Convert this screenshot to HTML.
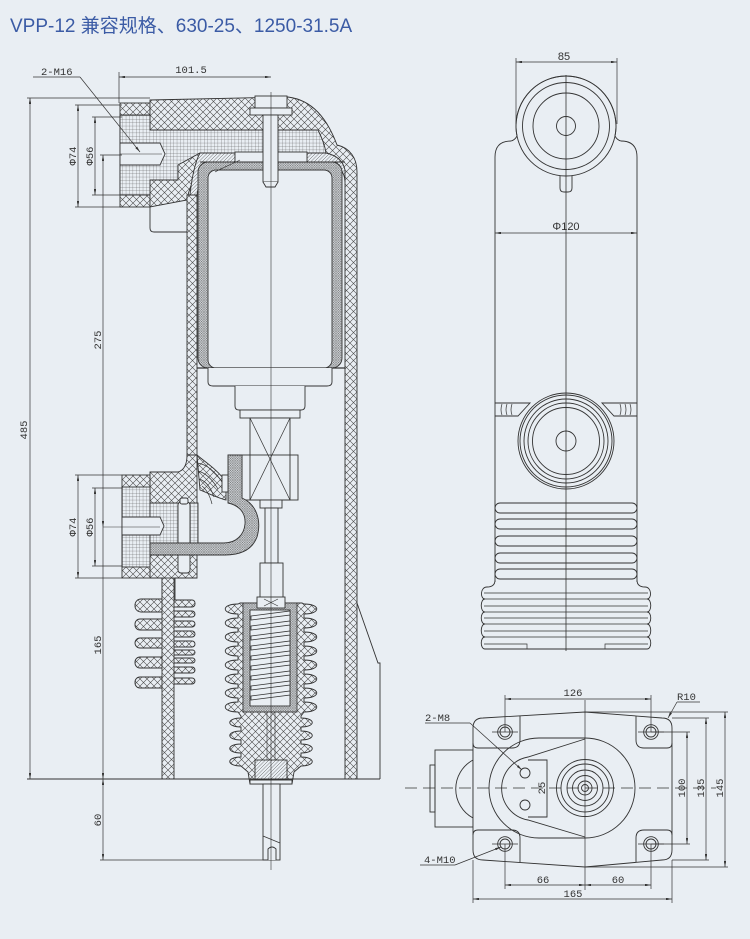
<!DOCTYPE html>
<html><head><meta charset="utf-8">
<style>
html,body{margin:0;padding:0;background:#e9eef3;}
svg{display:block;}
</style></head><body>
<svg width="750" height="939" viewBox="0 0 750 939" xmlns="http://www.w3.org/2000/svg">
<defs>
<pattern id="xh" width="7" height="7" patternUnits="userSpaceOnUse">
<rect width="7" height="7" fill="#e9eef3"/>
<path d="M0,0 L7,7 M7,0 L0,7" stroke="#4a4a4a" stroke-width="0.6"/>
</pattern>
<pattern id="gr" width="3.4" height="3.4" patternUnits="userSpaceOnUse">
<rect width="3.4" height="3.4" fill="#e9eef3"/>
<path d="M0,0 H3.4 M0,0 V3.4" stroke="#555" stroke-width="0.5"/>
</pattern>
<pattern id="dn" width="2.4" height="2.4" patternUnits="userSpaceOnUse">
<rect width="2.4" height="2.4" fill="#d2d6da"/>
<path d="M0,0 L2.4,2.4 M2.4,0 L0,2.4" stroke="#555" stroke-width="0.4"/>
</pattern>
<pattern id="dg" width="3.5" height="3.5" patternUnits="userSpaceOnUse">
<rect width="3.5" height="3.5" fill="#e9eef3"/>
<path d="M0,3.5 L3.5,0" stroke="#555" stroke-width="0.5"/>
</pattern>
<marker id="ar" viewBox="0 0 10 4" refX="10" refY="2" markerUnits="userSpaceOnUse" markerWidth="6" markerHeight="2.4" orient="auto-start-reverse">
<path d="M0,0 L10,2 L0,4 Z" fill="#333"/>
</marker>
</defs>

<rect width="750" height="939" fill="#e9eef3"/>

<text x="10" y="32" font-family="Liberation Sans, Noto Sans CJK SC, sans-serif" font-size="19" fill="#3b5ba5">VPP-12 兼容规格、630-25、1250-31.5A</text>

<!-- ================= LEFT VIEW ================= -->
<g stroke="#333" stroke-width="0.9">
<rect x="120" y="103" width="30" height="104" fill="url(#xh)"/>
<path d="M150,100 L288,97 C312,100 327,118 337,145 C350,148 357,158 357,172 L357,779 L345,779 L345,182 C345,170 338,163 328,163 L215,163 C200,165 190,182 187,200 L150,207 Z" fill="url(#xh)"/>
<rect x="187" y="195" width="10" height="265" fill="url(#xh)"/>
<path d="M120,115 L150,115 L150,130 L318,130 C322,138 325,146 326,153 L200,153 L178,165 L178,180 L150,180 L150,195 L120,195 Z" fill="url(#gr)"/>
<path d="M120,143 L160,143 L165,154 L160,165 L120,165 Z" fill="#e9eef3"/>
<line x1="120" y1="154" x2="162" y2="154" stroke-width="0.5"/>
<path d="M200,153 L235,153 L235,162 L215,163 C205,166 199,178 197,195 L190,195 C192,175 196,160 200,153 Z" fill="url(#dg)"/>
<path d="M307,153 L326,153 C335,155 343,160 345,170 L345,182 C345,172 338,164 328,163 L307,163 Z" fill="url(#dg)"/>
<path d="M150,207 L150,228 Q150,232 154,232 L187,232" fill="none"/>
<rect x="235" y="152" width="72" height="10" fill="#e9eef3"/>
<rect x="198" y="162" width="144" height="206" rx="10" fill="url(#dn)"/>
<rect x="208" y="170" width="124" height="198" rx="8" fill="#e9eef3"/>
<line x1="200" y1="162" x2="345" y2="162" stroke-width="1.1"/>
<path d="M215,172 C222,168 230,165 240,160" fill="none" stroke-width="0.6"/>
<rect x="255" y="96" width="32" height="12" fill="#e9eef3"/>
<rect x="250" y="108" width="42" height="7" fill="#e9eef3"/>
<rect x="263" y="115" width="15" height="67" fill="#e9eef3"/>
<path d="M263,182 L266,187 L275,187 L278,182" fill="#e9eef3"/>
<line x1="197" y1="368" x2="345" y2="368" stroke-width="1.2"/>
<path d="M208,368 L208,382 Q208,386 213,386 L327,386 Q332,386 332,382 L332,368" fill="#e9eef3"/>
<path d="M235,386 L235,406 Q235,410 239,410 L301,410 Q305,410 305,406 L305,386" fill="#e9eef3"/>
<rect x="240" y="410" width="60" height="8" fill="#e9eef3"/>
<rect x="250" y="418" width="40" height="82" fill="#e9eef3"/>
<rect x="242" y="455" width="56" height="45" fill="none"/>
<path d="M250,418 L290,500 M290,418 L250,500" fill="none" stroke-width="0.7"/>
<rect x="260" y="500" width="22" height="8" fill="#e9eef3"/>
<rect x="265" y="508" width="13" height="55" fill="#e9eef3"/>
<rect x="260" y="563" width="23" height="37" fill="#e9eef3"/>
<path d="M150,472 L178,472 C185,470 187,463 187,455 L197,455 C197,465 197,472 197,480 L197,578 L175,578 L175,600 L162,600 L162,578 L150,578 Z" fill="url(#xh)"/>
<rect x="122" y="475" width="28" height="103" fill="url(#xh)"/>
<rect x="122" y="487" width="28" height="80" fill="url(#gr)"/>
<rect x="150" y="503" width="48" height="40" fill="url(#gr)"/>
<path d="M122,517 L160,517 L164,526 L160,535 L122,535 Z" fill="#e9eef3"/>
<line x1="103" y1="527" x2="160" y2="527" stroke-width="0.5"/>
<path d="M197,455 C205,462 218,470 226,482 L226,500 C218,498 210,494 200,490 Z" fill="url(#xh)"/>
<path d="M197,463 C206,464 215,471 222,482 M198,471 C206,473 212,479 218,489 M199,479 C206,481 211,488 214,497 M202,486 C207,490 210,496 212,504" fill="none" stroke-width="0.7"/>
<rect x="178" y="502" width="12" height="71" rx="3" fill="#e9eef3"/>
<rect x="180" y="498" width="8" height="6" rx="2" fill="#e9eef3"/>
<path d="M228,455 L242,455 L242,498 C256,504 262,520 257,537 C252,550 240,555 225,555 L150,555 L150,543 L224,543 C236,543 244,535 245,524 C246,512 238,505 228,503 Z" fill="url(#dn)"/>
<rect x="222" y="475" width="6" height="17" fill="#e9eef3"/>
<rect x="135" y="599" width="32" height="13" rx="6" fill="url(#xh)"/>
<rect x="135" y="619" width="32" height="11" rx="5" fill="url(#xh)"/>
<rect x="135" y="638" width="32" height="10" rx="5" fill="url(#xh)"/>
<rect x="135" y="657" width="32" height="11" rx="5" fill="url(#xh)"/>
<rect x="135" y="677" width="32" height="11" rx="5" fill="url(#xh)"/>
<rect x="170" y="600" width="25" height="7" rx="3" fill="url(#xh)"/>
<rect x="170" y="611" width="25" height="6" rx="3" fill="url(#xh)"/>
<rect x="170" y="621" width="25" height="6" rx="3" fill="url(#xh)"/>
<rect x="170" y="631" width="25" height="6" rx="3" fill="url(#xh)"/>
<rect x="170" y="641" width="25" height="6" rx="3" fill="url(#xh)"/>
<rect x="170" y="650" width="25" height="5" rx="2.5" fill="url(#xh)"/>
<rect x="170" y="658" width="25" height="5" rx="2.5" fill="url(#xh)"/>
<rect x="170" y="667" width="25" height="6" rx="3" fill="url(#xh)"/>
<rect x="170" y="678" width="25" height="6" rx="3" fill="url(#xh)"/>
<rect x="162" y="578" width="12" height="201" fill="url(#xh)"/>
<path d="M240,603 L238,604 C221,604 221,614 238,614 L238,618 C221,618 221,628 238,628 L238,632 C221,632 221,642 238,642 L238,646 C221,646 221,656 238,656 L238,660 C221,660 221,670 238,670 L238,674 C221,674 221,684 238,684 L238,688 C221,688 221,698 238,698 L238,702 C221,702 221,712 238,712 L241,716 L241,718 C226,718 226,727 241,727 L241,731 C226,731 226,740 241,740 L241,744 C226,744 226,753 241,753 L241,757 C226,757 226,766 241,766 L248,772 L250,784 L292,784 L294,772 L301,766 C316,766 316,757 301,757 L301,753 C316,753 316,744 301,744 L301,740 C316,740 316,731 301,731 L301,727 C316,727 316,718 301,718 L301,716 L304,712 C321,712 321,702 304,702 L304,698 C321,698 321,688 304,688 L304,684 C321,684 321,674 304,674 L304,670 C321,670 321,660 304,660 L304,656 C321,656 321,646 304,646 L304,642 C321,642 321,632 304,632 L304,628 C321,628 321,618 304,618 L304,614 C321,614 321,604 304,604 L302,603 Z" fill="url(#xh)"/>
<rect x="243" y="603" width="54" height="109" fill="url(#dn)"/>
<rect x="250" y="610" width="40" height="96" fill="#e9eef3"/>
<g fill="#e9eef3" stroke-width="0.8">
<path d="M251,616 L290,611 L290,615 L251,620 Z"/>
<path d="M251,626 L290,621 L290,625 L251,630 Z"/>
<path d="M251,636 L290,631 L290,635 L251,640 Z"/>
<path d="M251,646 L290,641 L290,645 L251,650 Z"/>
<path d="M251,656 L290,651 L290,655 L251,660 Z"/>
<path d="M251,666 L290,661 L290,665 L251,670 Z"/>
<path d="M251,676 L290,671 L290,675 L251,680 Z"/>
<path d="M251,686 L290,681 L290,685 L251,690 Z"/>
<path d="M251,696 L290,691 L290,695 L251,700 Z"/>
</g>
<rect x="257" y="597" width="28" height="11" fill="#e9eef3"/>
<path d="M264,599 L278,606 M278,599 L264,606" fill="none" stroke-width="0.6"/>
<line x1="267" y1="712" x2="267" y2="760" stroke-width="0.6"/>
<line x1="275" y1="712" x2="275" y2="760" stroke-width="0.6"/>
<rect x="255" y="760" width="32" height="20" fill="url(#dg)"/>
<rect x="250" y="780" width="42" height="4" fill="#e9eef3"/>
<rect x="263" y="784" width="17" height="76" fill="#e9eef3"/>
<line x1="263" y1="836" x2="280" y2="843" stroke-width="0.7"/>
<path d="M268,860 L268,849 Q272,845 276,849 L276,860" fill="#e9eef3"/>
<path d="M357,603 L378,663 L380,663 L380,779" fill="none"/>
</g>
<line x1="271" y1="92" x2="271" y2="870" stroke="#333" stroke-width="0.6"/>

<g stroke="#333" stroke-width="0.7" fill="none">
<line x1="30" y1="98" x2="30" y2="779" marker-start="url(#ar)" marker-end="url(#ar)"/>
<line x1="27" y1="98" x2="150" y2="98"/>
<line x1="119" y1="72" x2="119" y2="103"/>
<line x1="119" y1="77" x2="271" y2="77" marker-start="url(#ar)" marker-end="url(#ar)"/>
<line x1="33" y1="77" x2="80" y2="77"/>
<line x1="80" y1="77" x2="140" y2="152" marker-end="url(#ar)"/>
<line x1="78" y1="105" x2="78" y2="207" marker-start="url(#ar)" marker-end="url(#ar)"/>
<line x1="75" y1="105" x2="122" y2="105"/>
<line x1="75" y1="207" x2="122" y2="207"/>
<line x1="95" y1="117" x2="95" y2="195" marker-start="url(#ar)" marker-end="url(#ar)"/>
<line x1="92" y1="117" x2="122" y2="117"/>
<line x1="92" y1="195" x2="122" y2="195"/>
<line x1="103" y1="155" x2="103" y2="527" marker-start="url(#ar)" marker-end="url(#ar)"/>
<line x1="100" y1="155" x2="122" y2="155"/>
<line x1="78" y1="475" x2="78" y2="578" marker-start="url(#ar)" marker-end="url(#ar)"/>
<line x1="75" y1="475" x2="122" y2="475"/>
<line x1="75" y1="578" x2="122" y2="578"/>
<line x1="95" y1="488" x2="95" y2="566" marker-start="url(#ar)" marker-end="url(#ar)"/>
<line x1="92" y1="488" x2="122" y2="488"/>
<line x1="92" y1="566" x2="122" y2="566"/>
<line x1="103" y1="527" x2="103" y2="779" marker-end="url(#ar)"/>
<line x1="103" y1="779" x2="103" y2="860" marker-start="url(#ar)" marker-end="url(#ar)"/>
<line x1="100" y1="860" x2="268" y2="860"/>
<line x1="27" y1="779" x2="380" y2="779" stroke-width="0.9"/>
</g>
<g font-family="Liberation Mono, monospace" font-size="10.5" fill="#333">
<text x="41" y="75">2-M16</text>
<text x="191" y="73" text-anchor="middle">101.5</text>
<text x="27" y="430" text-anchor="middle" transform="rotate(-90 27 430)">485</text>
<text x="76" y="156" text-anchor="middle" transform="rotate(-90 76 156)">Φ74</text>
<text x="93" y="156" text-anchor="middle" transform="rotate(-90 93 156)">Φ56</text>
<text x="101" y="340" text-anchor="middle" transform="rotate(-90 101 340)">275</text>
<text x="76" y="527" text-anchor="middle" transform="rotate(-90 76 527)">Φ74</text>
<text x="93" y="527" text-anchor="middle" transform="rotate(-90 93 527)">Φ56</text>
<text x="101" y="645" text-anchor="middle" transform="rotate(-90 101 645)">165</text>
<text x="101" y="820" text-anchor="middle" transform="rotate(-90 101 820)">60</text>
</g>

<!-- ================= RIGHT TOP VIEW ================= -->
<g stroke="#333" stroke-width="0.9" fill="none">
<path d="M495,582 L495,157 Q495,141 511,141 Q515,140 517,136 A50,50 0 1 1 615,136 Q617,140 621,141 Q637,141 637,157 L637,582"/>
<circle cx="566" cy="126" r="50"/>
<circle cx="566" cy="126" r="43.5"/>
<circle cx="566" cy="126" r="33"/>
<circle cx="566" cy="126" r="9.5"/>
<path d="M560,176 L560,188 Q560,192 564,192 L568,192 Q572,192 572,188 L572,176"/>
<path d="M495,403 L530,403 L518,416 L495,416"/>
<path d="M637,403 L602,403 L614,416 L637,416"/>
<path d="M502,404 Q500,410 502,415 M507,404 Q505,410 507,415 M512,404 Q510,410 512,415 M630,404 Q632,410 630,415 M625,404 Q627,410 625,415 M620,404 Q622,410 620,415" stroke-width="0.7"/>
<circle cx="566" cy="441" r="48" fill="#e9eef3"/>
<circle cx="566" cy="441" r="46"/>
<circle cx="566" cy="441" r="42"/>
<circle cx="566" cy="441" r="38"/>
<circle cx="566" cy="441" r="33.5"/>
<circle cx="566" cy="441" r="10"/>
<rect x="495" y="503" width="142" height="10" rx="5"/>
<rect x="495" y="519" width="142" height="10" rx="5"/>
<rect x="495" y="536" width="142" height="10" rx="5"/>
<rect x="495" y="553" width="142" height="10" rx="5"/>
<rect x="495" y="569" width="142" height="10" rx="5"/>
<path d="M495,580 Q495,587 487,587 C480,587 480,599 485,599 C480,599 480,612 485,612 C480,612 480,624 485,624 C480,624 480,637 485,637 C480,637 480,649 485,649 L647,649 C652,649 652,637 647,637 C652,637 652,624 647,624 C652,624 652,612 647,612 C652,612 652,599 647,599 C652,599 652,587 645,587 Q637,587 637,580"/>
<path d="M484,593 H648 M483,599 H649 M484,606 H648 M483,612 H649 M484,618 H648 M483,624 H649 M484,631 H648 M483,637 H649 M484,644 H527 V649 M605,649 V644 H648" stroke-width="0.7"/>
</g>
<g stroke="#333" stroke-width="0.7" fill="none">
<line x1="566" y1="75" x2="566" y2="651" stroke-width="0.8"/>
<line x1="516" y1="58" x2="516" y2="124"/>
<line x1="617" y1="58" x2="617" y2="124"/>
<line x1="516" y1="62" x2="617" y2="62" marker-start="url(#ar)" marker-end="url(#ar)"/>
<line x1="495" y1="233" x2="637" y2="233" marker-start="url(#ar)" marker-end="url(#ar)"/>
</g>
<g font-family="Liberation Sans, sans-serif" font-size="11" fill="#333" text-anchor="middle">
<text x="564" y="60">85</text>
<text x="566" y="230">Φ120</text>
</g>

<!-- ================= PLAN VIEW ================= -->
<g stroke="#333" stroke-width="0.9" fill="none">
<rect x="435" y="750" width="38" height="77"/>
<rect x="430" y="765" width="5" height="47"/>
<path d="M473,760 A33,33 0 0 0 473,818"/>
<path d="M483,718 L585,712 L662,718 Q672,718 672,728 L672,850 Q672,860 662,860 L585,867 L483,860 Q473,860 473,850 L473,728 Q473,718 483,718 Z" fill="#e9eef3"/>
<path d="M520,716 L520,740 Q520,748 512,748 L478,748 Q473,748 473,743"/>
<path d="M636,716 L636,740 Q636,748 644,748 L667,748 Q672,748 672,743"/>
<path d="M520,862 L520,838 Q520,830 512,830 L478,830 Q473,830 473,835"/>
<path d="M636,862 L636,838 Q636,830 644,830 L667,830 Q672,830 672,835"/>
<circle cx="505" cy="732" r="7.3"/><circle cx="505" cy="732" r="5"/>
<circle cx="651" cy="732" r="7.3"/><circle cx="651" cy="732" r="5"/>
<circle cx="505" cy="844" r="7.3"/><circle cx="505" cy="844" r="5"/>
<circle cx="651" cy="844" r="7.3"/><circle cx="651" cy="844" r="5"/>
<path d="M539,738 L585,738 A50,50 0 0 1 585,838 L539,838 A50,50 0 0 1 539,738 Z"/>
<path d="M585,739 L528,757 A32,32 0 0 0 528,820 L585,837"/>
<path d="M528,760 L547,760 L547,817 L528,817"/>
<circle cx="525" cy="773" r="5"/>
<circle cx="525" cy="805" r="5"/>
<circle cx="585" cy="788" r="28.5"/>
<circle cx="585" cy="788" r="24"/>
<circle cx="585" cy="788" r="18"/>
<circle cx="585" cy="788" r="12.5"/>
<circle cx="585" cy="788" r="7"/>
<circle cx="585" cy="788" r="3.5"/>
</g>
<g stroke="#333" stroke-width="0.7" fill="none">
<line x1="405" y1="788" x2="716" y2="788" stroke-dasharray="12,6"/>
<line x1="585" y1="700" x2="585" y2="890"/>
<line x1="492" y1="732" x2="518" y2="732"/><line x1="638" y1="732" x2="664" y2="732"/>
<line x1="492" y1="844" x2="518" y2="844"/><line x1="638" y1="844" x2="664" y2="844"/>
<line x1="505" y1="695" x2="505" y2="732"/>
<line x1="651" y1="695" x2="651" y2="732"/>
<line x1="505" y1="699" x2="651" y2="699" marker-start="url(#ar)" marker-end="url(#ar)"/>
<line x1="505" y1="844" x2="505" y2="889"/>
<line x1="651" y1="844" x2="651" y2="889"/>
<line x1="505" y1="885" x2="585" y2="885" marker-start="url(#ar)" marker-end="url(#ar)"/>
<line x1="585" y1="885" x2="651" y2="885" marker-start="url(#ar)" marker-end="url(#ar)"/>
<line x1="473" y1="860" x2="473" y2="903"/>
<line x1="672" y1="860" x2="672" y2="903"/>
<line x1="473" y1="899" x2="672" y2="899" marker-start="url(#ar)" marker-end="url(#ar)"/>
<line x1="651" y1="732" x2="690" y2="732"/>
<line x1="651" y1="844" x2="690" y2="844"/>
<line x1="687" y1="732" x2="687" y2="844" marker-start="url(#ar)" marker-end="url(#ar)"/>
<line x1="672" y1="718" x2="709" y2="718"/>
<line x1="672" y1="860" x2="709" y2="860"/>
<line x1="706" y1="718" x2="706" y2="860" marker-start="url(#ar)" marker-end="url(#ar)"/>
<line x1="585" y1="712" x2="728" y2="712"/>
<line x1="585" y1="867" x2="728" y2="867"/>
<line x1="725" y1="712" x2="725" y2="867" marker-start="url(#ar)" marker-end="url(#ar)"/>
<line x1="425" y1="723" x2="470" y2="723"/>
<line x1="470" y1="723" x2="522" y2="770" marker-end="url(#ar)"/>
<line x1="420" y1="865" x2="455" y2="865"/>
<line x1="455" y1="865" x2="501" y2="847" marker-end="url(#ar)"/>
<line x1="677" y1="702" x2="700" y2="702"/>
<line x1="677" y1="702" x2="668" y2="718" marker-end="url(#ar)"/>
</g>
<g font-family="Liberation Mono, monospace" font-size="10.5" fill="#333">
<text x="573" y="696" text-anchor="middle">126</text>
<text x="677" y="700">R10</text>
<text x="425" y="721">2-M8</text>
<text x="424" y="863">4-M10</text>
<text x="543" y="883" text-anchor="middle">66</text>
<text x="618" y="883" text-anchor="middle">60</text>
<text x="573" y="897" text-anchor="middle">165</text>
<text x="545" y="788" text-anchor="middle" transform="rotate(-90 545 788)">25</text>
<text x="685" y="788" text-anchor="middle" transform="rotate(-90 685 788)">100</text>
<text x="704" y="788" text-anchor="middle" transform="rotate(-90 704 788)">135</text>
<text x="723" y="788" text-anchor="middle" transform="rotate(-90 723 788)">145</text>
</g>
</svg>
</body></html>
